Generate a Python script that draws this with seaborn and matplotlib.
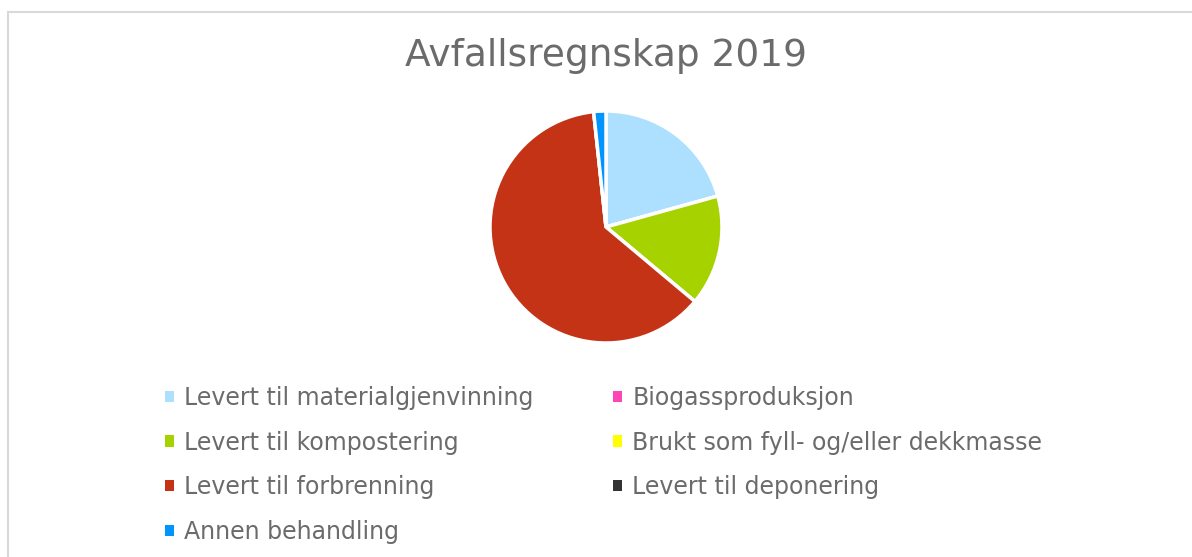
import seaborn as sns
import matplotlib
matplotlib.use('Agg')
import matplotlib.pyplot as plt
from matplotlib.patches import Rectangle, Patch

# data (shares in %)
categories = [
    "Levert til materialgjenvinning",
    "Biogassproduksjon",
    "Levert til kompostering",
    "Brukt som fyll- og/eller dekkmasse",
    "Levert til forbrenning",
    "Levert til deponering",
    "Annen behandling",
]
shares = [20.7, 0.0, 15.4, 0.0, 62.2, 0.0, 1.7]
colors = ["#ADDFFF", "#FF45B5", "#A6D200", "#FFFF00", "#C53317", "#333333", "#0094FF"]
title = "Avfallsregnskap 2019"

sns.set_theme(style="white")
plt.rcParams['font.family'] = ['DejaVu Sans']
text_col = "#6b6b6b"

W, H = 1192, 557
fig = plt.figure(figsize=(W / 100, H / 100), dpi=100)
fig.patch.set_facecolor('white')

# chart frame
fig.patches.append(Rectangle((8 / W, -0.1), 1.2, (H - 12) / H + 0.1,
                             transform=fig.transFigure, fill=False,
                             edgecolor="#D9D9D9", lw=1.5))

fig.text(606 / W, 1 - 56 / H, title, ha='center', va='center',
         fontsize=27, color=text_col)

r = 116
ax = fig.add_axes([(606 - r) / W, (H - 227 - r) / H, 2 * r / W, 2 * r / H])
ax.pie(shares, colors=colors, startangle=90, counterclock=False,
       wedgeprops=dict(edgecolor='white', linewidth=2.5))
ax.set_xlim(-1, 1)
ax.set_ylim(-1, 1)
ax.axis('off')

# legend, row-major in the reference -> reorder for column-major fill
order = [0, 2, 4, 6, 1, 3, 5]
handles = [Patch(facecolor=colors[i], edgecolor='none', label=categories[i]) for i in order]
leg = fig.legend(handles=handles, ncol=2, loc='upper left',
                 bbox_to_anchor=(165 / W, 1 - 386 / H), frameon=False,
                 fontsize=17, handlelength=0.36, handleheight=0.36,
                 handletextpad=0.45, labelspacing=0.87, columnspacing=3.37,
                 borderpad=0, borderaxespad=0)
for t in leg.get_texts():
    t.set_color(text_col)

fig.savefig('out.png', dpi=100)
